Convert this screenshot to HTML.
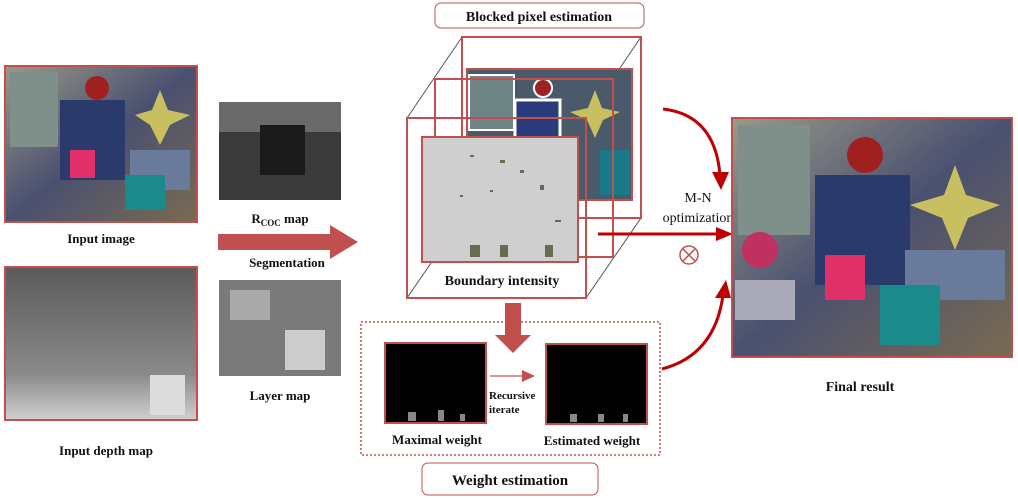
<!DOCTYPE html>
<html><head><style>body{margin:0;background:#fff}svg{display:block}text{font-family:"Liberation Serif",serif;font-weight:bold;fill:#111}</style></head><body>
<svg width="1018" height="499" xmlns="http://www.w3.org/2000/svg">
<defs>
<linearGradient id="g1" x1="0" y1="0" x2="1" y2="1"><stop offset="0" stop-color="#9a9a88"/><stop offset="0.5" stop-color="#4a5070"/><stop offset="1" stop-color="#7a6a50"/></linearGradient>
<linearGradient id="g2" x1="0" y1="0" x2="0" y2="1"><stop offset="0" stop-color="#5a5a5a"/><stop offset="0.7" stop-color="#8a8a8a"/><stop offset="1" stop-color="#d0d0d0"/></linearGradient>
</defs>
<!-- input image -->
<rect x="5" y="66" width="192" height="156" fill="url(#g1)" stroke="#c0504d" stroke-width="2"/>
<rect x="10" y="72" width="48" height="75" fill="#7f8f8a"/>
<rect x="60" y="100" width="65" height="80" fill="#2a3a6a"/>
<rect x="70" y="150" width="25" height="28" fill="#e0306a"/>
<rect x="130" y="150" width="60" height="40" fill="#6a7a9a"/>
<rect x="125" y="175" width="40" height="35" fill="#1a8a8a"/>
<circle cx="97" cy="88" r="12" fill="#a02020"/>
<polygon points="160,90 168,110 190,115 170,125 160,145 150,125 135,115 152,110" fill="#c8c060"/>
<text x="101" y="243" font-size="13" text-anchor="middle">Input image</text>
<!-- depth -->
<rect x="5" y="267" width="192" height="153" fill="url(#g2)" stroke="#c0504d" stroke-width="2"/>
<rect x="150" y="375" width="35" height="40" fill="#dcdcdc"/>
<text x="106" y="455" font-size="13" text-anchor="middle">Input depth map</text>
<!-- rcoc -->
<rect x="219" y="102" width="122" height="98" fill="#3a3a3a"/>
<rect x="219" y="102" width="122" height="30" fill="#6a6a6a"/>
<rect x="260" y="125" width="45" height="50" fill="#1a1a1a"/>
<text x="280" y="223" font-size="13" text-anchor="middle">R<tspan font-size="9" dy="3">COC</tspan><tspan dy="-3"> map</tspan></text>
<!-- big arrow -->
<polygon points="218,234 330,234 330,225 358,242 330,259 330,250 218,250" fill="#c0504d"/>
<text x="287" y="267" font-size="13" text-anchor="middle">Segmentation</text>
<!-- layer map -->
<rect x="219" y="280" width="122" height="96" fill="#7a7a7a"/>
<rect x="230" y="290" width="40" height="30" fill="#aaa"/>
<rect x="285" y="330" width="40" height="40" fill="#ccc"/>
<text x="280" y="400" font-size="13" text-anchor="middle">Layer map</text>
<!-- title box -->
<rect x="435" y="3" width="209" height="25" rx="6" fill="#fff" stroke="#c0504d" stroke-width="1"/>
<text x="539" y="21" font-size="14" text-anchor="middle">Blocked pixel estimation</text>
<!-- cube -->
<g stroke="#555" stroke-width="1">
<line x1="407" y1="118" x2="462" y2="37"/><line x1="586" y1="118" x2="641" y2="37"/>
<line x1="407" y1="298" x2="462" y2="218"/><line x1="586" y1="298" x2="641" y2="218"/>
</g>
<rect x="462" y="37" width="179" height="181" fill="none" stroke="#c0504d" stroke-width="2"/>
<rect x="467" y="69" width="165" height="131" fill="#4a5a6a" stroke="#c0504d" stroke-width="2"/>
<rect x="469" y="75" width="45" height="55" fill="#6f8585" stroke="#fff" stroke-width="2"/>
<rect x="515" y="100" width="45" height="40" fill="#2a3a7a" stroke="#fff" stroke-width="3"/>
<circle cx="543" cy="88" r="9" fill="#a02020" stroke="#fff" stroke-width="2"/>
<polygon points="595,90 602,108 620,112 603,120 595,138 587,120 570,112 588,108" fill="#c8c060"/>
<rect x="600" y="150" width="30" height="45" fill="#1a7a8a"/>
<rect x="435" y="79" width="178" height="178" fill="none" stroke="#c0504d" stroke-width="2"/>
<rect x="407" y="118" width="179" height="180" fill="none" stroke="#c0504d" stroke-width="2"/>
<rect x="422" y="137" width="156" height="125" fill="#cfcfcf" stroke="#c0504d" stroke-width="2"/>
<g fill="#6a6a50"><rect x="470" y="155" width="4" height="2"/><rect x="500" y="160" width="5" height="3"/><rect x="520" y="170" width="4" height="3"/><rect x="490" y="190" width="3" height="2"/><rect x="540" y="185" width="4" height="5"/><rect x="460" y="195" width="3" height="2"/><rect x="555" y="220" width="6" height="2"/><rect x="470" y="245" width="10" height="12"/><rect x="500" y="245" width="8" height="12"/><rect x="545" y="245" width="8" height="12"/></g>
<text x="502" y="285" font-size="14" text-anchor="middle">Boundary intensity</text>
<!-- down arrow -->
<polygon points="505,303 521,303 521,335 531,335 513,353 495,335 505,335" fill="#c0504d"/>
<!-- dotted box -->
<rect x="361" y="322" width="299" height="133" fill="none" stroke="#c0504d" stroke-width="1.5" stroke-dasharray="2,2"/>
<rect x="385" y="343" width="101" height="80" fill="#000" stroke="#c0504d" stroke-width="2"/>
<rect x="546" y="344" width="101" height="80" fill="#000" stroke="#c0504d" stroke-width="2"/>
<g fill="#888"><rect x="408" y="412" width="8" height="9"/><rect x="438" y="410" width="6" height="11"/><rect x="460" y="414" width="5" height="7"/><rect x="570" y="414" width="7" height="8"/><rect x="598" y="414" width="6" height="8"/><rect x="623" y="414" width="5" height="8"/></g>
<line x1="490" y1="376" x2="524" y2="376" stroke="#d07070" stroke-width="1.5"/>
<polygon points="522,370 535,376 522,382" fill="#c0504d"/>
<text x="489" y="399" font-size="11">Recursive</text>
<text x="489" y="413" font-size="11">iterate</text>
<text x="437" y="444" font-size="13" text-anchor="middle">Maximal weight</text>
<text x="592" y="445" font-size="13" text-anchor="middle">Estimated weight</text>
<rect x="422" y="463" width="176" height="32" rx="6" fill="#fff" stroke="#c0504d" stroke-width="1"/>
<text x="510" y="485" font-size="15" text-anchor="middle">Weight estimation</text>
<!-- arrows to final -->
<path d="M663,109 Q715,115 720,175" fill="none" stroke="#c00000" stroke-width="3"/>
<polygon points="712,172 729,172 721,190" fill="#c00000"/>
<line x1="598" y1="234" x2="718" y2="234" stroke="#c00000" stroke-width="3"/>
<polygon points="716,227 733,234 716,241" fill="#c00000"/>
<text x="698" y="202" font-size="14" font-weight="normal" text-anchor="middle" style="font-weight:normal">M-N</text>
<text x="698" y="222" font-size="14" text-anchor="middle" style="font-weight:normal">optimization</text>
<circle cx="689" cy="255" r="9" fill="none" stroke="#c0504d" stroke-width="1.5"/>
<path d="M683,249 L695,261 M695,249 L683,261" stroke="#c0504d" stroke-width="1.5"/>
<path d="M662,369 Q715,355 723,295" fill="none" stroke="#c00000" stroke-width="3"/>
<polygon points="715,298 731,298 726,280" fill="#c00000"/>
<!-- final -->
<rect x="732" y="118" width="280" height="239" fill="url(#g1)" stroke="#c0504d" stroke-width="2"/>
<rect x="738" y="125" width="72" height="110" fill="#7f8f8a"/>
<rect x="815" y="175" width="95" height="110" fill="#2a3a6a"/>
<circle cx="865" cy="155" r="18" fill="#a02020"/>
<polygon points="955,165 966,195 1000,205 968,218 955,250 942,218 910,205 944,195" fill="#c8c060"/>
<rect x="825" y="255" width="40" height="45" fill="#e0306a"/>
<circle cx="760" cy="250" r="18" fill="#c03060"/>
<rect x="905" y="250" width="100" height="50" fill="#6a7a9a"/>
<rect x="880" y="285" width="60" height="60" fill="#1a8a8a"/>
<rect x="735" y="280" width="60" height="40" fill="#aab"/>
<text x="860" y="391" font-size="14" text-anchor="middle">Final result</text>
</svg>
</body></html>
